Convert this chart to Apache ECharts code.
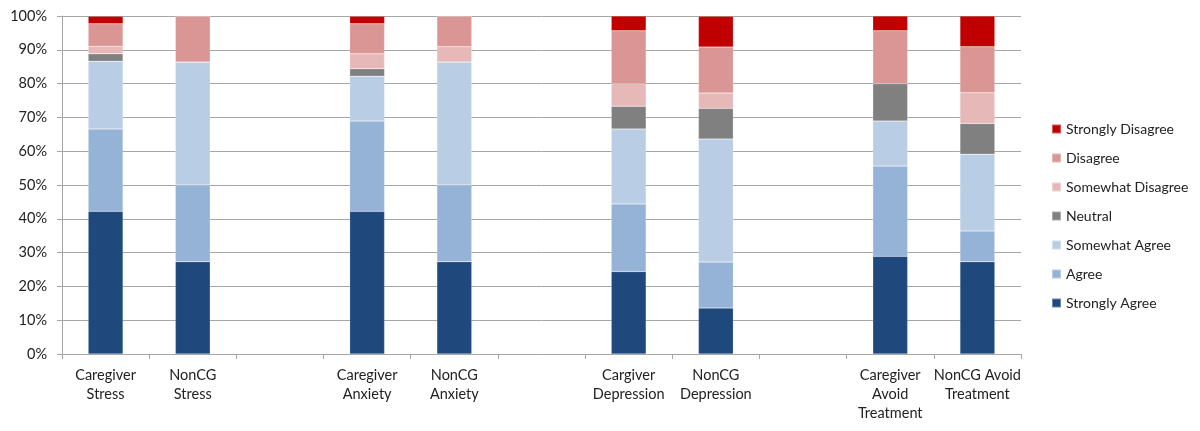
<!DOCTYPE html>
<html lang="en">
<head>
    <meta charset="UTF-8">
    <title>caregiver-survey</title>
    <script src="https://cdn.jsdelivr.net/npm/echarts@6.0.0/dist/echarts.min.js"></script>
    <style>
        html, body { margin: 0; padding: 0; background: #fff; }
    </style>
</head>
<body>
<div id="main" style="width: 1200px;height:431px;"></div>
<script>
    // categories (blank entries are spacer columns)
    var categories = ['Caregiver\nStress', 'NonCG\nStress', '', 'Caregiver\nAnxiety', 'NonCG\nAnxiety', '',
        'Cargiver\nDepression', 'NonCG\nDepression', '', 'Caregiver\nAvoid\nTreatment', 'NonCG Avoid\nTreatment'];

    // percent of respondents per answer
    var stronglyAgree    = [42.2, 27.3, null, 42.2, 27.3, null, 24.4, 13.6, null, 28.9, 27.3];
    var agree            = [24.4, 22.7, null, 26.7, 22.7, null, 20.0, 13.6, null, 26.7,  9.1];
    var somewhatAgree    = [20.0, 36.4, null, 13.3, 36.4, null, 22.2, 36.4, null, 13.3, 22.7];
    var neutral          = [ 2.2,  0.0, null,  2.2,  0.0, null,  6.7,  9.1, null, 11.1,  9.1];
    var somewhatDisagree = [ 2.2,  0.0, null,  4.4,  4.5, null,  6.7,  4.5, null,  0.0,  9.1];
    var disagree         = [ 6.7, 13.6, null,  8.9,  9.1, null, 15.6, 13.6, null, 15.6, 13.6];
    var stronglyDisagree = [ 2.2,  0.0, null,  2.2,  0.0, null,  4.4,  9.1, null,  4.4,  9.1];

    var yTicks = [0, 10, 20, 30, 40, 50, 60, 70, 80, 90, 100];

    var seriesList = [
        {name: 'Strongly Agree', data: stronglyAgree, color: '#1F497D'},
        {name: 'Agree', data: agree, color: '#95B3D7'},
        {name: 'Somewhat Agree', data: somewhatAgree, color: '#B9CDE5'},
        {name: 'Neutral', data: neutral, color: '#808080'},
        {name: 'Somewhat Disagree', data: somewhatDisagree, color: '#E6B9B8'},
        {name: 'Disagree', data: disagree, color: '#D99694'},
        {name: 'Strongly Disagree', data: stronglyDisagree, color: '#C00000'}
    ];

    var font = 'Lato, "Liberation Sans", sans-serif';
    var chart = echarts.init(document.getElementById('main'));
    var option = {
        animation: false,
        textStyle: {fontFamily: font},
        grid: {
            left: 62,
            right: 179,
            top: 16,
            bottom: 77
        },
        legend: {
            orient: 'vertical',
            left: 1046,
            top: 117,
            itemWidth: 9,
            itemHeight: 9,
            itemGap: 15,
            icon: 'rect',
            textStyle: {fontSize: 14, color: '#222', fontFamily: font},
            data: seriesList.map(function (s) { return s.name; }).reverse()
        },
        xAxis: {
            type: 'category',
            data: categories,
            axisLine: {lineStyle: {color: '#A6A6A6', width: 1}},
            axisTick: {show: true, length: 5, lineStyle: {color: '#A6A6A6'}},
            axisLabel: {
                interval: 0,
                fontSize: 14.5,
                color: '#222',
                lineHeight: 19,
                margin: 12,
                fontFamily: font
            }
        },
        yAxis: {
            type: 'value',
            min: yTicks[0],
            max: yTicks[yTicks.length - 1],
            interval: 10,
            axisLine: {show: true, lineStyle: {color: '#A6A6A6', width: 1}},
            axisTick: {show: true, length: 5, lineStyle: {color: '#A6A6A6'}},
            splitLine: {lineStyle: {color: '#A6A6A6', width: 1}},
            axisLabel: {
                formatter: '{value}%',
                fontSize: 14.5,
                color: '#222',
                margin: 15,
                fontFamily: font
            }
        },
        series: seriesList.map(function (s) {
            return {
                name: s.name,
                type: 'bar',
                stack: 'total',
                barWidth: '40%',
                data: s.data,
                itemStyle: {color: s.color, borderColor: 'rgba(255,255,255,0.35)', borderWidth: 0.5}
            };
        })
    };
    chart.setOption(option);
</script>
</body>
</html>
